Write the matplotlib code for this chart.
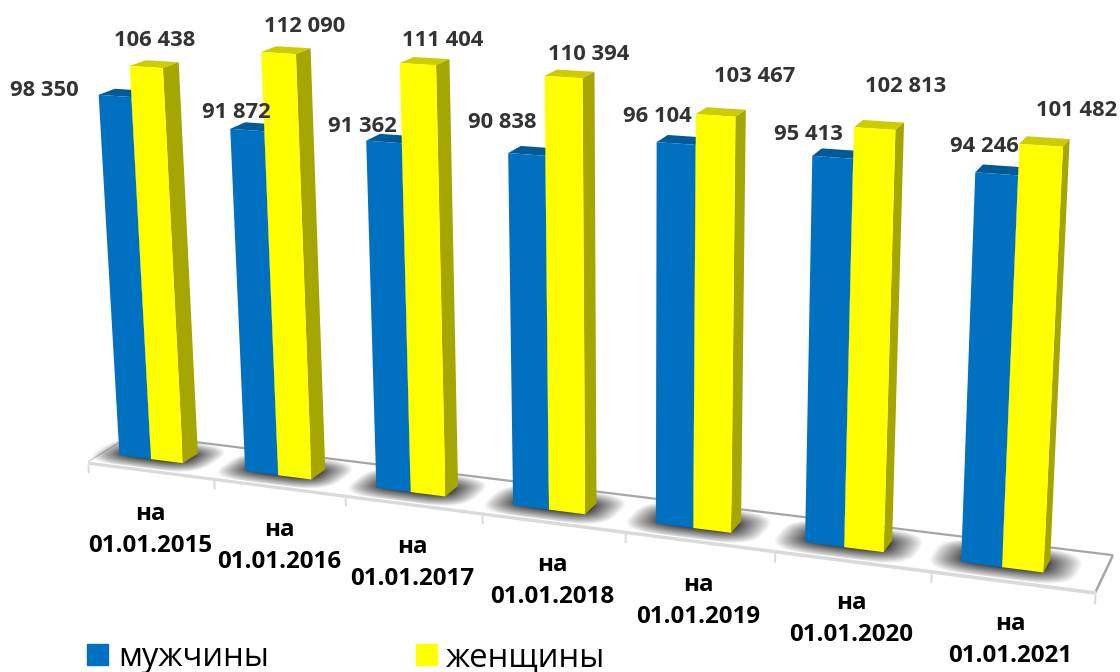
import numpy as np
import matplotlib
matplotlib.use('Agg')
import matplotlib.pyplot as plt
from matplotlib.patches import Patch
from mpl_toolkits.mplot3d.art3d import Poly3DCollection, Line3DCollection

# ---- data ----
categories = ['на\n01.01.2015', 'на\n01.01.2016', 'на\n01.01.2017', 'на\n01.01.2018',
              'на\n01.01.2019', 'на\n01.01.2020', 'на\n01.01.2021']
men = [98350, 91872, 91362, 90838, 96104, 95413, 94246]
women = [106438, 112090, 111404, 110394, 103467, 102813, 101482]
series_names = ['мужчины', 'женщины']

W, H = 1120, 672
BLUE, BLUE_TOP, BLUE_SIDE = '#0070C0', '#005A9A', '#004F86'
YEL, YEL_TOP, YEL_SIDE = '#FFFF00', '#CCCC00', '#A6A600'
NONE = (0, 0, 0, 0)
X0, X1, X2 = .14, .395, .65      # bar edges inside a category
Y0, Y1 = .31, .66                # bar depth on the floor

# ---- camera calibration: world point <-> screen pixel ----
bl_top = [(99,95),(231,129),(367,141),(509,154),(657,143),(813,157),(977,173)]
yl_top = [(130,66),(261,52),(400,64),(544,76),(695,112),(854,128),(1020,144)]
yr_top = [(162,68),(295,53),(436,66),(582,78),(735,114),(895,130),(1063,147)]
yb_top = [(181,62),(312,49),(444,60),(596,71),(746,108),(904,123),(1069,139)]
bl_bot = [(118,455),(244,472),(375,488),(516,507),(655,522),(804,542),(960,562)]
yr_bot = [(182,463),(310,480),(443,497),(585,515),(734,533),(882,552),(1041,572)]
yb_bot = [(199,452),(327,468),(460,485),(596,503),(746,522),(891,540),(1049,562)]
cal = [((0,0,0),(90,461)), ((7,0,0),(1098,590)), ((7,1,0),(1113,555)), ((0,1,0),(131,435))]
for i in range(7):
    cal += [((i+X0,Y0,men[i]/1e5), bl_top[i]),
            ((i+X1,Y0,women[i]/1e5), yl_top[i]),
            ((i+X2,Y0,women[i]/1e5), yr_top[i]),
            ((i+X2,Y1,women[i]/1e5), yb_top[i]),
            ((i+X0,Y0,0), bl_bot[i]),
            ((i+X2,Y0,0), yr_bot[i]),
            ((i+X2,Y1,0), yb_bot[i])]
A, b = [], []
for (x, y, z), (u, v) in cal:
    A.append([x, y, z, 1, 0, 0, 0, 0, -u*x, -u*y, -u*z]); b.append(u)
    A.append([0, 0, 0, 0, x, y, z, 1, -v*x, -v*y, -v*z]); b.append(v)
p = np.linalg.lstsq(np.array(A, float), np.array(b, float), rcond=None)[0]
P = np.append(p, 1.0).reshape(3, 4)
P[:, 2] /= 1e5
M = np.array([P[0], P[1], [0, 1, 0, 0], P[2]])

# ---- figure ----
fig = plt.figure(figsize=(W/100, H/100), dpi=100, facecolor='white')
ax = fig.add_axes([0, -1/3, 1, 5/3], projection='3d', computed_zorder=False)
ax.get_proj = lambda: M
ax.set_axis_off()
ax.patch.set_visible(False)

# floor plate
T = 900
ax.bar3d(0, 0, -T, 7, 1, T, color=[NONE, 'white', '#DADADA', NONE, NONE, '#BDBDBD'],
         shade=False, edgecolor='none', zorder=1)
ticks = [[(i, 0, -T), (i, 0, -3200)] for i in range(8)]
ax.add_collection3d(Line3DCollection(ticks, colors='#D9D9D9', linewidths=1.4, zorder=2))
ax.add_collection3d(Line3DCollection([[(0, 0, 0), (0, 1, 0)]], colors='#D0D0D0', linewidths=1.0, zorder=2))
ax.add_collection3d(Line3DCollection([[(0, 1, 0), (7, 1, 0)], [(7, 0, 0), (7, 1, 0)]],
                                     colors='#A6A6A6', linewidths=1.6, zorder=2))

# soft floor shadows (stacked translucent rounded rectangles)
ang = np.linspace(0, 2*np.pi, 49)[:-1]
for i in range(7):
    cx, cy = i + (X0+X2)/2, (Y0+Y1)/2
    hx, hy = (X2-X0)/2, (Y1-Y0)/2
    polys = []
    for t in np.linspace(1, 0, 36)**1.6:
        rx, ry = hx + .20*t, hy + .32*t
        sx = cx + rx*np.sign(np.cos(ang))*np.abs(np.cos(ang))**.6
        sy = np.clip(cy + ry*np.sign(np.sin(ang))*np.abs(np.sin(ang))**.6, .03, .97)
        polys.append(list(zip(sx, sy, np.zeros_like(sx))))
    ax.add_collection3d(Poly3DCollection(polys, facecolors=(0, 0, 0, .035), edgecolors='none', zorder=3))

# bars
for i in range(7):
    ax.bar3d(i+X0, Y0, 0, X1-X0, Y1-Y0, men[i],
             color=[NONE, BLUE_TOP, BLUE, NONE, NONE, BLUE_SIDE],
             shade=False, edgecolor='none', zorder=10+2*i)
    ax.bar3d(i+X1, Y0, 0, X2-X1, Y1-Y0, women[i],
             color=[NONE, YEL_TOP, YEL, NONE, NONE, YEL_SIDE],
             shade=False, edgecolor='none', zorder=11+2*i)
ax.viewLim.intervalx = (0, W)
ax.viewLim.intervaly = (H + 224, -224)

# text
FONT = 'Open Sans'
men_lbl = [(44,91),(236,113),(362,126),(502,123),(657,117),(808,134),(984,147)]
wom_lbl = [(155,41),(305,27),(443,41),(589,55),(755,76),(906,87),(1077,111)]
cat_lbl = [(150,530),(279,546),(412,563),(552,581),(698,601),(851,619),(1010,640)]


def fmt(v):
    return f'{v:,}'.replace(',', ' ')


def put(px, py, s, **kw):
    fig.text(px/W, 1-py/H, s, ha='center', va='center', family=FONT, weight='bold', **kw)


for i in range(7):
    put(*men_lbl[i], fmt(men[i]), fontsize=15.8, color='#333333', zorder=40)
    put(*wom_lbl[i], fmt(women[i]), fontsize=15.8, color='#333333', zorder=40)
    put(*cat_lbl[i], categories[i], fontsize=17.4, color='black', linespacing=1.42, zorder=40)

fig.legend(handles=[Patch(color=BLUE), Patch(color=YEL)], labels=series_names, ncol=2,
           loc='lower left', bbox_to_anchor=(87/W, -2/H), frameon=False, borderpad=0, borderaxespad=0,
           handlelength=.64, handleheight=.64, handletextpad=.3, columnspacing=4.48,
           prop={'family': 'Open Sans', 'size': 23.6})

fig.savefig('out.png', dpi=100)
